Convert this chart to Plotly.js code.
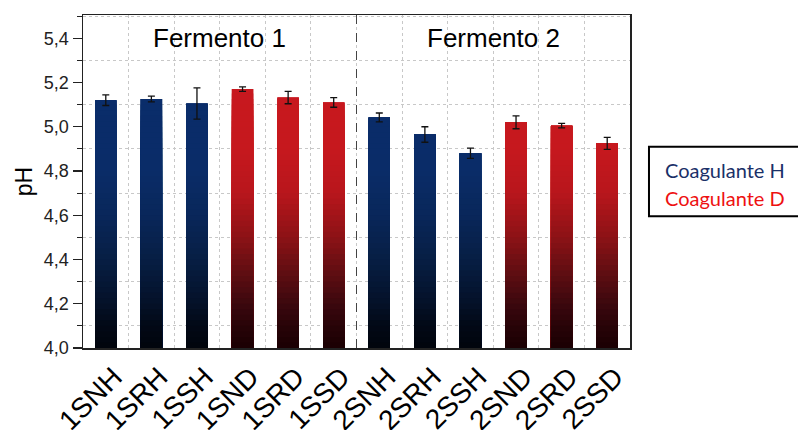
<!DOCTYPE html>
<html>
<head>
<meta charset="utf-8">
<script src="https://cdn.plot.ly/plotly-3.0.1.min.js"></script>
<style>html,body{margin:0;padding:0;background:#fff;}#chart{width:798px;height:430px;}</style>
</head>
<body>
<div id="chart"></div>
<script>
// ---- data ----
const categories = ['1SNH','1SRH','1SSH','1SND','1SRD','1SSD','2SNH','2SRH','2SSH','2SND','2SRD','2SSD'];
const coagulant  = ['H','H','H','D','D','D','H','H','H','D','D','D'];
const phValues   = [5.12, 5.125, 5.105, 5.17, 5.132, 5.11, 5.042, 4.965, 4.88, 5.02, 5.005, 4.925];
const phErrors   = [0.024, 0.013, 0.071, 0.010, 0.028, 0.022, 0.020, 0.035, 0.023, 0.029, 0.010, 0.027];
const groupLabels = ['Fermento 1', 'Fermento 2'];
const legendLabels = ['Coagulante H', 'Coagulante D'];

// ---- style: gradient colour stops (level -> rgb) ----
const stopsH = [[4.0,[1,4,12]],[4.1,[2,9,22]],[4.2,[4,17,40]],[4.4,[7,30,68]],[4.6,[9,39,90]],[4.8,[10,44,104]],[5.3,[10,45,107]]];
const stopsD = [[4.0,[26,0,2]],[4.1,[40,3,8]],[4.2,[60,8,14]],[4.35,[98,14,18]],[4.5,[140,18,22]],[4.7,[184,22,28]],[4.9,[198,24,30]],[5.3,[200,24,31]]];
function colAt(stops, v){
  if (v <= stops[0][0]) return 'rgb('+stops[0][1].join(',')+')';
  for (let i=1;i<stops.length;i++){
    if (v <= stops[i][0]){
      const a=stops[i-1], b=stops[i], t=(v-a[0])/(b[0]-a[0]);
      const c=a[1].map((x,j)=>Math.round(x+(b[1][j]-x)*t));
      return 'rgb('+c.join(',')+')';
    }
  }
  return 'rgb('+stops[stops.length-1][1].join(',')+')';
}

const traces = [];
const step = 0.025, lo = 4.0, hi = 5.2;
const nBands = Math.round((hi-lo)/step);
for (let k = nBands-1; k >= 0; k--){
  const upper = lo + (k+1)*step;
  const mid = lo + (k+0.5)*step;
  traces.push({
    type:'bar', x: categories,
    y: phValues.map(v => Math.min(v, upper)),
    width: 0.47,
    marker:{color: coagulant.map(c => colAt(c==='H'?stopsH:stopsD, mid)), line:{width:0}},
    showlegend:false, hoverinfo:'skip'
  });
}
traces.push({
  type:'scatter', mode:'markers', x: categories, y: phValues,
  marker:{size:1, opacity:0},
  error_y:{type:'data', array: phErrors, visible:true, color:'#111', thickness:1.3, width:3.5},
  showlegend:false, hoverinfo:'skip'
});

const AR = 'Arial, Liberation Sans, sans-serif';
const CAL = 'Lato, Noto Sans, sans-serif';

const layout = {
  width:798, height:430,
  margin:{l:83, r:168, t:15, b:82},
  paper_bgcolor:'#fff', plot_bgcolor:'#fff',
  separators:',.',
  barmode:'overlay',
  font:{family:AR, color:'#000'},
  xaxis:{
    type:'category', range:[-0.5, 11.5], automargin:false,
    tickson:'boundaries', ticks:'', tickangle:-45,
    ticklabelshift:8,
    tickfont:{family:AR, size:28, color:'#000'},
    showgrid:true, gridcolor:'#c8c8c8', griddash:'dot', gridwidth:1,
    showline:true, linecolor:'#222', linewidth:1.5, mirror:true,
    zeroline:false
  },
  yaxis:{
    range:[4.0, 5.505], dtick:0.2, tick0:4.0, tickformat:'.1f', automargin:false,
    ticks:'outside', ticklen:9, tickwidth:1.3, tickcolor:'#222',
    tickfont:{family:AR, size:18, color:'#222'},
    showgrid:false,
    minor:{dtick:0.1, tick0:4.0, ticks:'outside', ticklen:5, tickwidth:1.2, tickcolor:'#222',
           showgrid:true, gridcolor:'#c8c8c8', griddash:'dot', gridwidth:1},
    showline:true, linecolor:'#222', linewidth:1.5, mirror:true,
    zeroline:false,
    title:{text:'pH', font:{family:AR, size:23, color:'#000'}, standoff:5}
  },
  shapes:[
    {type:'line', xref:'x', yref:'paper', x0:5.5, x1:5.5, y0:0, y1:1,
     line:{color:'#444', width:1, dash:'dash'}},
    {type:'rect', xref:'paper', yref:'paper', x0:1.0347, x1:1.32, y0:0.396, y1:0.604,
     line:{color:'#000', width:2}, fillcolor:'rgba(0,0,0,0)'}
  ],
  annotations:[
    {xref:'x', yref:'paper', x:2.5, y:0.931, text:groupLabels[0], showarrow:false,
     font:{family:AR, size:26, color:'#000'}, xanchor:'center', yanchor:'middle'},
    {xref:'x', yref:'paper', x:8.5, y:0.931, text:groupLabels[1], showarrow:false,
     font:{family:AR, size:26, color:'#000'}, xanchor:'center', yanchor:'middle'},
    {xref:'paper', yref:'paper', x:1.060, y:0.535, text:legendLabels[0], showarrow:false,
     font:{family:CAL, size:20, color:'#1a3068'}, xanchor:'left', yanchor:'middle'},
    {xref:'paper', yref:'paper', x:1.060, y:0.450, text:legendLabels[1], showarrow:false,
     font:{family:CAL, size:20, color:'#ee1111'}, xanchor:'left', yanchor:'middle'}
  ]
};

Plotly.newPlot('chart', traces, layout, {displayModeBar:false, staticPlot:true});
</script>
</body>
</html>
